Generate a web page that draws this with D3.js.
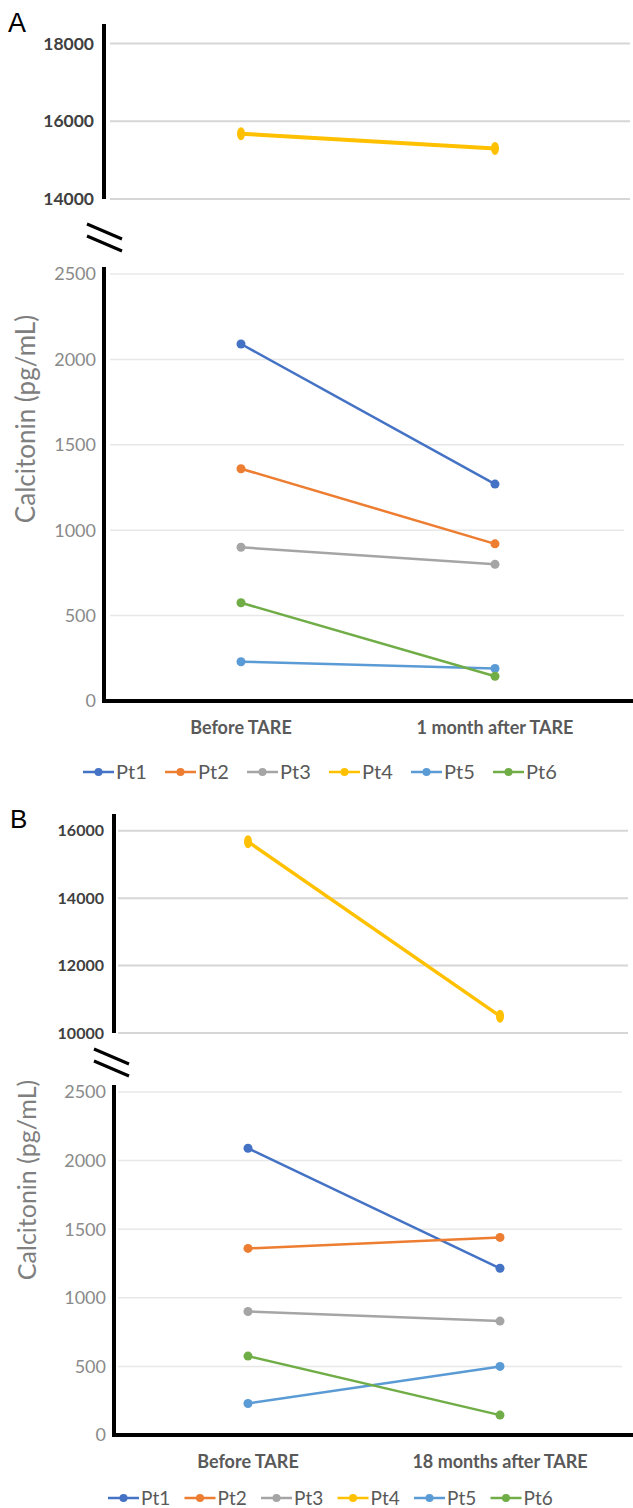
<!DOCTYPE html>
<html>
<head>
<meta charset="utf-8">
<script src="https://cdn.jsdelivr.net/npm/d3@7"></script>
<style>
    body { margin: 0; background: #fff; }
    svg { display: block; font-family: Lato, "Open Sans", sans-serif; }
</style>
</head>
<body>
<div id="chart"></div>
<script>
var patients = ["Pt1", "Pt2", "Pt3", "Pt4", "Pt5", "Pt6"];
var colors = ["#4472c4", "#ed7d31", "#a5a5a5", "#ffc000", "#5b9bd5", "#70ad47"];

// panel A: before vs 1 month
var categoriesA = ["Before TARE", "1 month after TARE"];
var beforeA = [2090, 1360, 900, 15680, 230, 575];
var afterA = [1270, 920, 800, 15300, 190, 145];

// panel B: before vs 18 months
var categoriesB = ["Before TARE", "18 months after TARE"];
var beforeB = [2090, 1360, 900, 15680, 230, 575];
var afterB = [1215, 1440, 830, 10500, 500, 145];

var lowTicks = [0, 500, 1000, 1500, 2000, 2500];
var highTicksA = [14000, 16000, 18000];
var highTicksB = [10000, 12000, 14000, 16000];
var yTitle = "Calcitonin (pg/mL)";

(function() {
    var width = 633,
        height = 1508;

    var svg = d3.select("#chart")
        .append("svg")
        .attr("width", width)
        .attr("height", height);

    var panels = [
        { tag: "A", cats: categoriesA, before: beforeA, after: afterA, highTicks: highTicksA,
          tagX: 8, tagY: 32, tagSize: 27,
          axisX: 104, plot: [114, 622], grid: [110, 630],
          high: { domain: [14000, 18500], range: [199, 24] }, highFont: 17.5, highWidth: 4,
          low: { domain: [0, 2500], range: [701, 274], top: 267 },
          brk: [87, 224], titleX: 35, titleY: 419, titleSize: 26,
          catY: 734, legendY: 772, legendX: 83, legendStep: 82, legendFont: 20 },
        { tag: "B", cats: categoriesB, before: beforeB, after: afterB, highTicks: highTicksB,
          tagX: 10, tagY: 828, tagSize: 26,
          axisX: 114, plot: [122, 626], grid: [118, 628],
          high: { domain: [10000, 16500], range: [1033, 814] }, highFont: 16, highWidth: 3.5,
          low: { domain: [0, 2500], range: [1435, 1092], top: 1085 },
          brk: [94, 1049], titleX: 36, titleY: 1180, titleSize: 25,
          catY: 1468, legendY: 1498, legendX: 108, legendStep: 76.5, legendFont: 19 }
    ];

    panels.forEach(drawPanel);

    function drawPanel(p) {
        var g = svg.append("g");

        var x = d3.scalePoint()
            .domain(p.cats)
            .range(p.plot)
            .padding(0.5);

        var yHigh = d3.scaleLinear().domain(p.high.domain).range(p.high.range);
        var yLow = d3.scaleLinear().domain(p.low.domain).range(p.low.range);

        // series that don't fit the lower scale go on the upper part
        var series = patients.map(function(name, i) {
            var vals = [p.before[i], p.after[i]];
            return {
                name: name,
                color: colors[i],
                high: d3.max(vals) > p.low.domain[1],
                values: vals
            };
        });

        // gridlines
        g.selectAll(".grid-high")
            .data(p.highTicks)
            .enter().append("line")
            .attr("x1", p.grid[0])
            .attr("x2", p.grid[1])
            .attr("y1", yHigh)
            .attr("y2", yHigh)
            .attr("stroke", "#d6d6d6")
            .attr("stroke-width", 2);

        g.selectAll(".grid-low")
            .data(lowTicks.filter(function(d) { return d > 0; }))
            .enter().append("line")
            .attr("x1", p.grid[0])
            .attr("x2", p.grid[1] - 6)
            .attr("y1", yLow)
            .attr("y2", yLow)
            .attr("stroke", "#e8e8e8")
            .attr("stroke-width", 1.5);

        // tick labels
        g.selectAll(".tick-high")
            .data(p.highTicks)
            .enter().append("text")
            .attr("x", p.axisX - 10)
            .attr("y", yHigh)
            .attr("dy", "0.35em")
            .attr("text-anchor", "end")
            .attr("font-size", p.highFont)
            .attr("font-weight", 700)
            .attr("fill", "#404040")
            .text(function(d) { return d; });

        g.selectAll(".tick-low")
            .data(lowTicks)
            .enter().append("text")
            .attr("x", p.axisX - 8)
            .attr("y", yLow)
            .attr("dy", "0.35em")
            .attr("text-anchor", "end")
            .attr("font-size", 18)
            .attr("fill", "#8a8a8a")
            .text(function(d) { return d; });

        // axis lines
        g.append("line")
            .attr("x1", p.axisX).attr("x2", p.axisX)
            .attr("y1", yHigh(p.high.domain[1])).attr("y2", yHigh(p.high.domain[0]))
            .attr("stroke", "#000").attr("stroke-width", 4);

        g.append("line")
            .attr("x1", p.axisX).attr("x2", p.axisX)
            .attr("y1", p.low.top).attr("y2", yLow(0) + 2)
            .attr("stroke", "#000").attr("stroke-width", 4);

        g.append("line")
            .attr("x1", p.axisX - 2).attr("x2", width)
            .attr("y1", yLow(0)).attr("y2", yLow(0))
            .attr("stroke", "#000").attr("stroke-width", 4);

        // break marks
        var bx = p.brk[0], by = p.brk[1];
        g.append("path")
            .attr("d", "M" + bx + "," + by + "L" + (bx + 35) + "," + (by + 15)
                + "M" + bx + "," + (by + 12) + "L" + (bx + 35) + "," + (by + 27))
            .attr("stroke", "#000")
            .attr("stroke-width", 3)
            .attr("fill", "none");

        // series
        series.forEach(function(s) {
            var y = s.high ? yHigh : yLow;
            var pts = s.values.map(function(v, i) { return [x(p.cats[i]), y(v)]; });

            g.append("path")
                .attr("d", d3.line()(pts))
                .attr("fill", "none")
                .attr("stroke", s.color)
                .attr("stroke-width", s.high ? p.highWidth : 2.5);

            if (s.high) {
                g.selectAll(null)
                    .data(pts)
                    .enter().append("ellipse")
                    .attr("cx", function(d) { return d[0]; })
                    .attr("cy", function(d) { return d[1]; })
                    .attr("rx", 4)
                    .attr("ry", 6.5)
                    .attr("fill", s.color);
            } else {
                g.selectAll(null)
                    .data(pts)
                    .enter().append("circle")
                    .attr("cx", function(d) { return d[0]; })
                    .attr("cy", function(d) { return d[1]; })
                    .attr("r", 4.5)
                    .attr("fill", s.color);
            }
        });

        // category labels
        g.selectAll(".cat")
            .data(p.cats)
            .enter().append("text")
            .attr("x", x)
            .attr("y", p.catY)
            .attr("text-anchor", "middle")
            .attr("font-size", 18)
            .attr("font-weight", 700)
            .attr("fill", "#595959")
            .text(function(d) { return d; });

        // y title
        g.append("text")
            .attr("transform", "translate(" + p.titleX + "," + p.titleY + ") rotate(-90)")
            .attr("text-anchor", "middle")
            .attr("font-size", p.titleSize)
            .attr("fill", "#7f7f7f")
            .text(yTitle);

        // panel letter
        g.append("text")
            .attr("x", p.tagX)
            .attr("y", p.tagY)
            .attr("font-family", "'Liberation Sans', Arial, sans-serif")
            .attr("font-size", p.tagSize)
            .attr("fill", "#000")
            .text(p.tag);

        // legend
        var legend = g.selectAll(".legend")
            .data(series)
            .enter().append("g")
            .attr("transform", function(d, i) {
                return "translate(" + (p.legendX + i * p.legendStep) + "," + p.legendY + ")";
            });

        legend.append("line")
            .attr("x1", 0).attr("x2", 31)
            .attr("stroke", function(d) { return d.color; })
            .attr("stroke-width", 2.5);

        legend.append("circle")
            .attr("cx", 15.5)
            .attr("r", 4)
            .attr("fill", function(d) { return d.color; });

        legend.append("text")
            .attr("x", 33)
            .attr("dy", "0.35em")
            .attr("font-size", p.legendFont)
            .attr("fill", "#595959")
            .text(function(d) { return d.name; });
    }
})();
</script>
</body>
</html>
